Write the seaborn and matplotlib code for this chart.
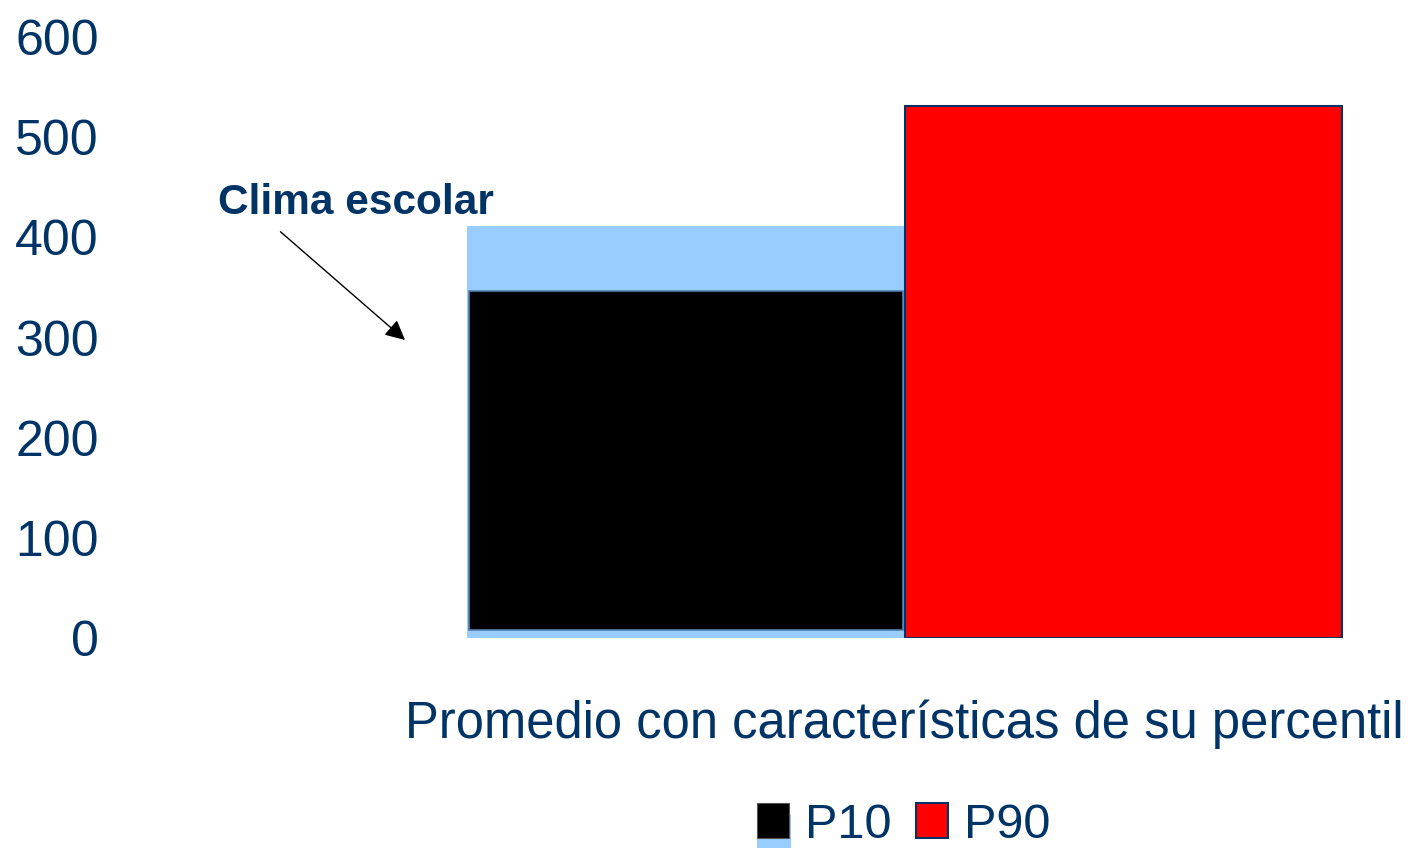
import pandas as pd
import seaborn as sns
import matplotlib.pyplot as plt
from matplotlib.patches import Rectangle
from matplotlib.legend_handler import HandlerBase

# data
categoria = ["Promedio con características de su percentil"]
grupos = ["P10", "P90"]
valores = [411, 531]          # total bar height per group
clima_base = 8                # black P10 segment: bottom
clima_top = 346               # black P10 segment: top
y_ticks = [0, 100, 200, 300, 400, 500, 600]

navy = "#003366"
light_blue = "#99ccff"

df = pd.DataFrame({
    "categoria": categoria * len(grupos),
    "grupo": grupos,
    "valor": valores,
})

sns.set_style("white")
plt.rcParams["font.family"] = ["Liberation Sans", "DejaVu Sans"]

fig = plt.figure(figsize=(14.1, 8.48), dpi=100)
ax = fig.add_axes([110 / 1410, 1 - 638 / 848, 1290 / 1410, 601 / 848])

sns.barplot(
    df,
    x="categoria",
    y="valor",
    hue="grupo",
    palette={"P10": light_blue, "P90": "#ff0000"},
    width=0.8,
    saturation=1,
    legend=False,
    ax=ax,
)

p10_bar, p90_bar = ax.patches[0], ax.patches[1]
p10_bar.set_edgecolor("none")
p90_bar.set_edgecolor(navy)
p90_bar.set_linewidth(1.5)

# black segment drawn inside the light blue P10 bar
inset = p10_bar.get_width() * 0.004
ax.bar(
    p10_bar.get_x() + p10_bar.get_width() / 2,
    clima_top - clima_base,
    width=p10_bar.get_width() - 2 * inset,
    bottom=clima_base,
    color="black",
    edgecolor="#4f7fb0",
    linewidth=1.2,
    zorder=3,
)

ax.set_ylim(0, 600)
ax.set_xlim(-0.4 - 357 / 1093.75, 0.4 + 58 / 1093.75)
ax.set_yticks(y_ticks)
ax.set_yticklabels([str(t) for t in y_ticks], fontsize=36, color=navy)
ax.tick_params(axis="y", length=0, pad=8)
ax.tick_params(axis="x", length=0, pad=44, labelsize=36.5, labelcolor=navy)
ax.set_xlabel("")
ax.set_ylabel("")
sns.despine(ax=ax, left=True, bottom=True)

ax.annotate(
    "Clima escolar",
    xy=(405, 848 - 340), xycoords="figure pixels",
    xytext=(218, 848 - 203), textcoords="figure pixels",
    fontsize=30.5, fontweight="bold", color=navy, va="center", ha="left",
    arrowprops=dict(arrowstyle="-|>", color="black", lw=1,
                    mutation_scale=30, shrinkA=6, shrinkB=0,
                    relpos=(0.19, 0)),
)


class HandlerUnder(HandlerBase):
    # black square with a light blue strip peeking out underneath
    def create_artists(self, legend, orig_handle, xdescent, ydescent,
                       width, height, fontsize, trans):
        under = Rectangle((-xdescent, -ydescent - height * 0.35), width * 1.05,
                          height, facecolor=light_blue, edgecolor="none",
                          transform=trans)
        top = Rectangle((-xdescent, -ydescent), width, height,
                        facecolor="black", edgecolor="#555555", lw=0.8,
                        transform=trans)
        return [under, top]


h_p10 = Rectangle((0, 0), 1, 1, facecolor="black")
h_p90 = Rectangle((0, 0), 1, 1, facecolor="#ff0000", edgecolor=navy, lw=1.5)
leg = fig.legend(
    [h_p10, h_p90], grupos,
    handler_map={h_p10: HandlerUnder()},
    loc="center", bbox_to_anchor=(904 / 1410, 1 - 825 / 848),
    ncol=2, frameon=False, fontsize=35,
    handlelength=0.66, handleheight=0.72, handletextpad=0.33,
    columnspacing=0.5,
)
for t in leg.get_texts():
    t.set_color(navy)

fig.savefig("out.png", dpi=100, facecolor="white")
